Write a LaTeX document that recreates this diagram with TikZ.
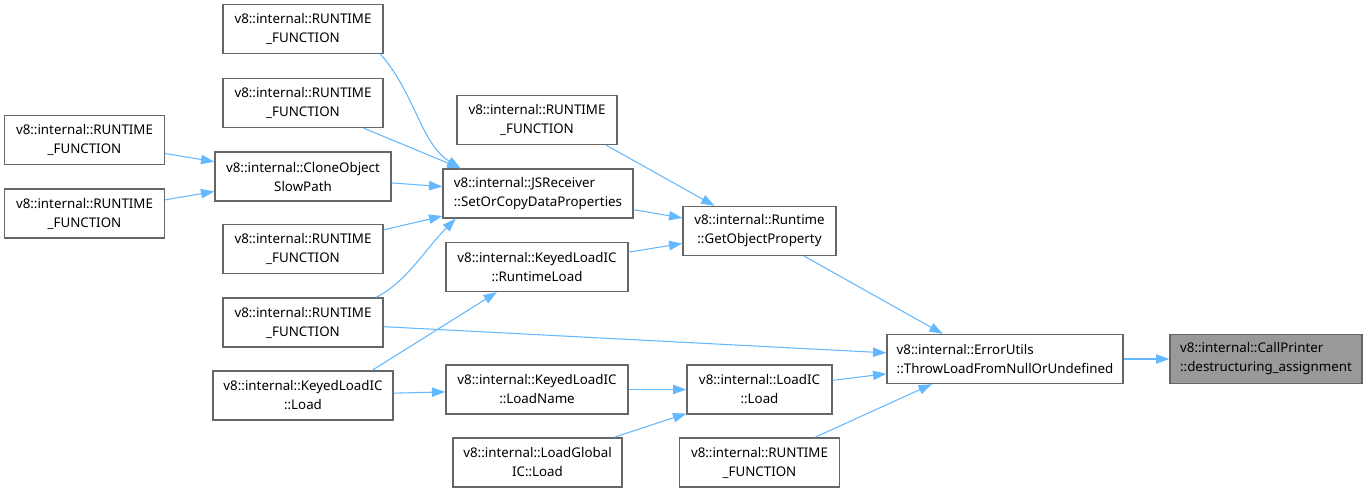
\documentclass[tikz,border=0pt]{standalone}
\usepackage{fontspec}
\setmainfont{Noto Sans}
\usetikzlibrary{arrows.meta,calc,positioning}
\definecolor{edge}{HTML}{63B8FF}
\definecolor{frame}{HTML}{666666}
\definecolor{shade}{HTML}{999999}

\begin{document}
\begin{tikzpicture}[x=0.75pt,y=-0.75pt,>={Triangle[length=10pt,width=7pt]},
 fn/.style={draw=frame,line width=1pt,fill=white,align=center,inner sep=0pt,
  minimum width=120pt,minimum height=36.75pt,font=\fontsize{10}{14.25}\selectfont},
 call/.style={->,edge,line width=0.8pt}]
\useasboundingbox (0,0) rectangle (1368,493);
\node[fn,fill=shade,align=left,minimum width=144pt] (cp) at (1266,359) {v8::internal::CallPrinter\\::destructuring\_assignment};
\node[fn,align=left,minimum width=177pt] (eu) at (1005,359) {v8::internal::ErrorUtils\\::ThrowLoadFromNullOrUndefined};
\node[fn,minimum width=114.75pt] (gop) at (759.5,231) {v8::internal::Runtime\\::GetObjectProperty};
\node[fn,minimum width=108.75pt] (lic) at (759.5,389.5) {v8::internal::LoadIC\\::Load};
\node[fn] (rt1) at (759.5,462.5) {v8::internal::RUNTIME\\\_FUNCTION};
\node[fn] (rt2) at (537,120) {v8::internal::RUNTIME\\\_FUNCTION};
\node[fn,align=left,minimum width=142.5pt] (jsr) at (538,193.5) {v8::internal::JSReceiver\\::SetOrCopyDataProperties};
\node[fn,minimum width=136.5pt] (rtl) at (537,267) {v8::internal::KeyedLoadIC\\::RuntimeLoad};
\node[fn,minimum width=136.5pt] (lname) at (537,389.5) {v8::internal::KeyedLoadIC\\::LoadName};
\node[fn,minimum width=126.75pt] (lglob) at (537.5,462.5) {v8::internal::LoadGlobal\\IC::Load};
\node[fn] (rt3) at (303,29) {v8::internal::RUNTIME\\\_FUNCTION};
\node[fn] (rt4) at (303,103) {v8::internal::RUNTIME\\\_FUNCTION};
\node[fn,minimum width=132pt] (clone) at (303,176.5) {v8::internal::CloneObject\\SlowPath};
\node[fn] (rt5) at (303,249) {v8::internal::RUNTIME\\\_FUNCTION};
\node[fn] (rt6) at (303,322.5) {v8::internal::RUNTIME\\\_FUNCTION};
\node[fn,minimum width=135pt] (kload) at (303,395.5) {v8::internal::KeyedLoadIC\\::Load};
\node[fn] (rt7) at (84.5,140) {v8::internal::RUNTIME\\\_FUNCTION};
\node[fn] (rt8) at (84.5,213.5) {v8::internal::RUNTIME\\\_FUNCTION};
\draw[call] (eu) -- (cp);
\draw[call] (gop) -- (eu.158);
\draw[call] (rt6) -- (eu);
\draw[call] (lic) -- (eu);
\draw[call] (rt1) -- (eu.199);
\draw[call] (rt2.-20) -- (gop);
\draw[call] (jsr) -- (gop);
\draw[call] (rtl) -- (gop);
\draw[call] (lname) -- (lic);
\draw[call] (lglob) -- (lic);
\draw[call] (rt3.-18) .. controls +(35,40) and +(-40,-25) .. (jsr.162);
\draw[call] (rt4) -- (jsr.162);
\draw[call] (clone) -- (jsr);
\draw[call] (rt5) -- (jsr);
\draw[call] (rt6.19) .. controls +(30,-15) and +(-30,30) .. (jsr.197);
\draw[call] (kload.20) -- (rtl);
\draw[call] (kload) -- (lname);
\draw[call] (rt7) -- (clone);
\draw[call] (rt8) -- (clone);
\end{tikzpicture}
\end{document}
